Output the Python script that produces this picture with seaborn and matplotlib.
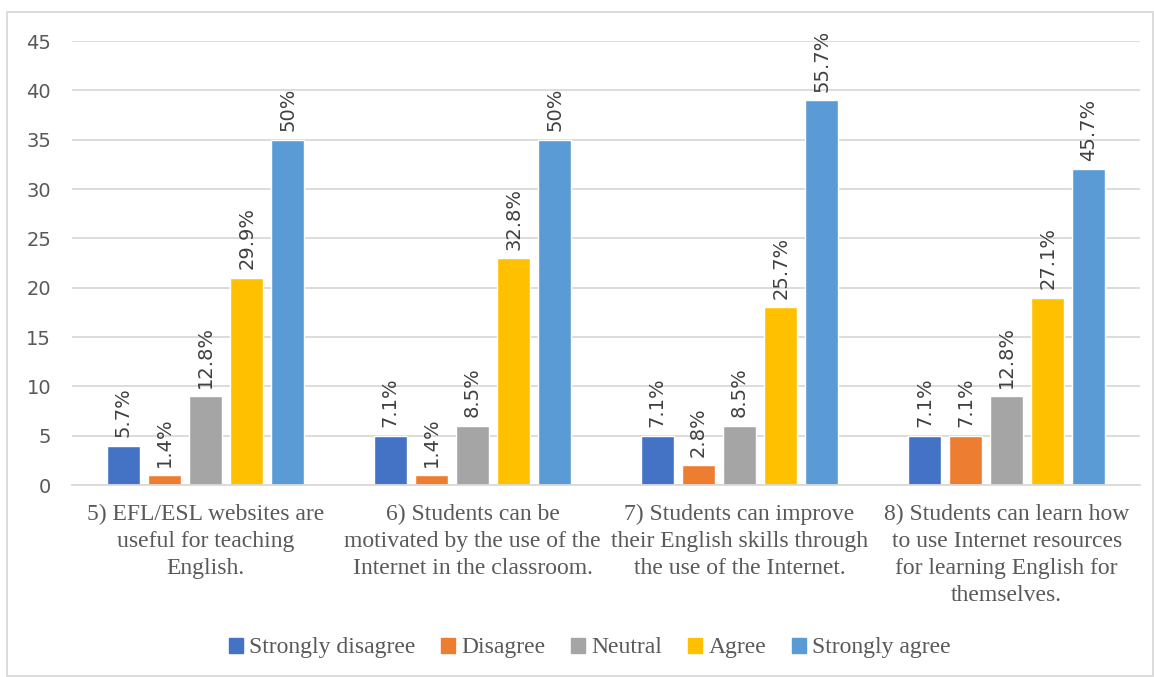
import matplotlib
matplotlib.use("Agg")
import matplotlib.pyplot as plt
import seaborn as sns
import pandas as pd
from matplotlib.patches import Rectangle

categories = [
    "5) EFL/ESL websites are\nuseful for teaching\nEnglish.",
    "6) Students can be\nmotivated by the use of the\nInternet in the classroom.",
    "7) Students can improve\ntheir English skills through\nthe use of the Internet.",
    "8) Students can learn how\nto use Internet resources\nfor learning English for\nthemselves.",
]
series = ["Strongly disagree", "Disagree", "Neutral", "Agree", "Strongly agree"]
strongly_disagree = [4, 5, 5, 5]
disagree = [1, 1, 2, 5]
neutral = [9, 6, 6, 9]
agree = [21, 23, 18, 19]
strongly_agree = [35, 35, 39, 32]
pct_strongly_disagree = ["5.7%", "7.1%", "7.1%", "7.1%"]
pct_disagree = ["1.4%", "1.4%", "2.8%", "7.1%"]
pct_neutral = ["12.8%", "8.5%", "8.5%", "12.8%"]
pct_agree = ["29.9%", "32.8%", "25.7%", "27.1%"]
pct_strongly_agree = ["50%", "50%", "55.7%", "45.7%"]
colors = ["#4472C4", "#ED7D31", "#A5A5A5", "#FFC000", "#5B9BD5"]

values = [strongly_disagree, disagree, neutral, agree, strongly_agree]
pcts = [pct_strongly_disagree, pct_disagree, pct_neutral, pct_agree, pct_strongly_agree]

rows = []
for s, vals in zip(series, values):
    for c, v in zip(categories, vals):
        rows.append({"category": c, "series": s, "value": v})
df = pd.DataFrame(rows)

sns.set_style("white")
fig = plt.figure(figsize=(11.54, 6.77), dpi=100)
ax = fig.add_axes([0.0624, 0.2836, 0.9256, 0.6558])

sns.barplot(data=df, x="category", y="value", hue="series", hue_order=series,
            order=categories, palette=colors, width=0.77, gap=0.2,
            saturation=1, ax=ax, legend=True)

for container, labels in zip(ax.containers, pcts):
    ax.bar_label(container, labels=labels, rotation=90, padding=6,
                 fontsize=14, color="#404040", family="DejaVu Sans")

ax.set_ylim(0, 45)
ax.set_xlim(-0.5, 3.5)
ax.set_yticks(range(0, 46, 5))
ax.yaxis.grid(True, color="#D9D9D9", linewidth=1.3)
ax.set_axisbelow(True)
for sp in ["top", "right", "left"]:
    ax.spines[sp].set_visible(False)
ax.spines["bottom"].set_color("#D9D9D9")
ax.spines["bottom"].set_linewidth(1.3)
ax.tick_params(axis="y", length=0, labelsize=14, labelcolor="#595959", pad=15)
ax.tick_params(axis="x", length=0, pad=13.5)
for lab in ax.get_yticklabels():
    lab.set_family("DejaVu Sans")
ax.set_xticks(range(len(categories)))
ax.set_xticklabels(categories, fontsize=17, family="Liberation Serif",
                   color="#595959", linespacing=1.38, va="top")
ax.set_xlabel("")
ax.set_ylabel("")

leg = ax.get_legend()
if leg is not None:
    leg.remove()
handles = [Rectangle((0, 0), 1, 1, color=c) for c in colors]
fig.legend(handles, series, loc="center", bbox_to_anchor=(0.511, 0.043),
           ncol=5, frameon=False, prop={"family": "Liberation Serif", "size": 17},
           labelcolor="#595959", handlelength=0.6, handleheight=0.6,
           handletextpad=0.25, columnspacing=1.1)

fig.patches.append(Rectangle((7 / 1154, 1 / 677), 1 - 7 / 1154 - 0.0005, 1 - 13 / 677,
                             transform=fig.transFigure, fill=False,
                             edgecolor="#D9D9D9", linewidth=1.3))

fig.savefig("out.png", dpi=100)
